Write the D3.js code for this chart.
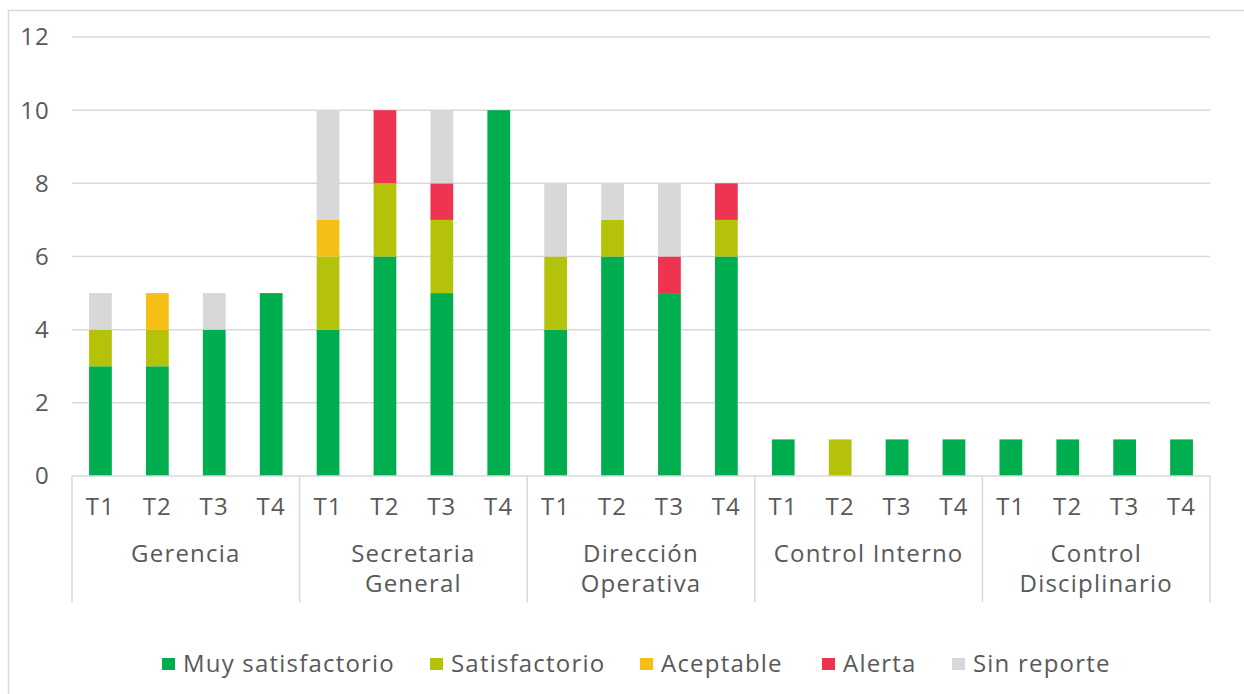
<!DOCTYPE html>
<html>
<head>
<meta charset="utf-8">
<script src="https://cdn.jsdelivr.net/npm/d3@7"></script>
<style>
body { margin: 0; background: #fff; }
text { font-family: "Open Sans", sans-serif; fill: #595959; letter-spacing: 1.2px; }
</style>
</head>
<body>
<div id="chart"></div>
<script>
// data
var groups = ["Gerencia", "Secretaria General", "Dirección Operativa", "Control Interno", "Control Disciplinario"];
var groupLines = [["Gerencia"], ["Secretaria", "General"], ["Dirección", "Operativa"], ["Control Interno"], ["Control", "Disciplinario"]];
var quarters = ["T1", "T2", "T3", "T4"];
var seriesNames = ["Muy satisfactorio", "Satisfactorio", "Aceptable", "Alerta", "Sin reporte"];
var seriesColors = ["#00ae4f", "#b4c30a", "#f5bf16", "#ee3451", "#d8d8d8"];
// one value per bar, 20 bars: groups x quarters
var muySatisfactorio = [3, 3, 4, 5,  4, 6, 5, 10,  4, 6, 5, 6,  1, 0, 1, 1,  1, 1, 1, 1];
var satisfactorio    = [1, 1, 0, 0,  2, 2, 2, 0,   2, 1, 0, 1,  0, 1, 0, 0,  0, 0, 0, 0];
var aceptable        = [0, 1, 0, 0,  1, 0, 0, 0,   0, 0, 0, 0,  0, 0, 0, 0,  0, 0, 0, 0];
var alerta           = [0, 0, 0, 0,  0, 2, 1, 0,   0, 0, 1, 1,  0, 0, 0, 0,  0, 0, 0, 0];
var sinReporte       = [1, 0, 1, 0,  3, 0, 2, 0,   2, 1, 2, 0,  0, 0, 0, 0,  0, 0, 0, 0];
var yTicks = [0, 2, 4, 6, 8, 10, 12];

const width = 1244;
const height = 694;
const plot = { left: 72, right: 1210, top: 37, bottom: 476 };
const fontSize = "24px";

var rows = [];
var seriesArrays = [muySatisfactorio, satisfactorio, aceptable, alerta, sinReporte];
groups.forEach(function(g, gi){
	quarters.forEach(function(q, qi){
		var i = gi * 4 + qi;
		var row = { key: g + "|" + q, group: g, quarter: q };
		seriesNames.forEach(function(s, si){ row[s] = seriesArrays[si][i]; });
		rows.push(row);
	});
});

var svg = d3.select("#chart").append("svg")
	.attr("width", width)
	.attr("height", height);

// chart border
svg.append("rect")
	.attr("x", 8.5).attr("y", 10.5)
	.attr("width", 1300).attr("height", 800)
	.attr("fill", "none")
	.attr("stroke", "#d9d9d9")
	.attr("stroke-width", 1.5);

var y = d3.scaleLinear().domain([0, 12]).range([plot.bottom, plot.top]);
var x = d3.scaleBand().domain(rows.map(d => d.key)).range([plot.left, plot.right])
	.paddingInner(0.6).paddingOuter(0.3);
var xGroup = d3.scaleBand().domain(groups).range([plot.left, plot.right]);
var color = d3.scaleOrdinal().domain(seriesNames).range(seriesColors);

// gridlines
svg.append("g").selectAll("line")
	.data(yTicks.filter(t => t > 0))
	.enter().append("line")
	.attr("x1", plot.left).attr("x2", plot.right)
	.attr("y1", d => y(d)).attr("y2", d => y(d))
	.attr("stroke", "#d9d9d9")
	.attr("stroke-width", 1.5);

// y labels
svg.append("g").selectAll("text")
	.data(yTicks)
	.enter().append("text")
	.attr("x", 50)
	.attr("y", d => y(d))
	.attr("dy", "0.35em")
	.attr("text-anchor", "end")
	.style("font-size", fontSize)
	.text(d => d);

// stacked bars
var stack = d3.stack().keys(seriesNames);
var layers = stack(rows);

svg.append("g").selectAll("g")
	.data(layers)
	.enter().append("g")
	.attr("fill", d => color(d.key))
	.selectAll("rect")
	.data(d => d.filter(p => p[1] > p[0]))
	.enter().append("rect")
	.attr("x", d => x(d.data.key))
	.attr("width", x.bandwidth())
	.attr("y", d => y(d[1]))
	.attr("height", d => y(d[0]) - y(d[1]));

// category axis
var axis = svg.append("g");
axis.append("line")
	.attr("x1", plot.left).attr("x2", plot.right)
	.attr("y1", plot.bottom).attr("y2", plot.bottom)
	.attr("stroke", "#d9d9d9").attr("stroke-width", 1.5);

var seps = groups.map(g => xGroup(g)).concat([plot.right]);
axis.selectAll("line.sep")
	.data(seps)
	.enter().append("line")
	.attr("class", "sep")
	.attr("x1", d => d).attr("x2", d => d)
	.attr("y1", plot.bottom).attr("y2", 602)
	.attr("stroke", "#d9d9d9").attr("stroke-width", 1.5);

axis.selectAll("text.q")
	.data(rows)
	.enter().append("text")
	.attr("class", "q")
	.attr("x", d => x(d.key) + x.bandwidth() / 2)
	.attr("y", 507)
	.attr("dy", "0.35em")
	.attr("text-anchor", "middle")
	.style("font-size", fontSize)
	.text(d => d.quarter);

var gl = axis.selectAll("text.g")
	.data(groups)
	.enter().append("text")
	.attr("class", "g")
	.attr("text-anchor", "middle")
	.style("font-size", fontSize);
gl.selectAll("tspan")
	.data((d, i) => groupLines[i].map(t => ({ t: t, g: d })))
	.enter().append("tspan")
	.attr("x", d => xGroup(d.g) + xGroup.bandwidth() / 2)
	.attr("y", (d, i) => 554 + i * 30)
	.attr("dy", "0.35em")
	.text(d => d.t);

// legend
var legendX = [162, 430, 640, 822, 952];
var legend = svg.append("g").selectAll("g")
	.data(seriesNames)
	.enter().append("g")
	.attr("transform", (d, i) => "translate(" + legendX[i] + ",664)");
legend.append("rect")
	.attr("x", 0).attr("y", -6)
	.attr("width", 13).attr("height", 12)
	.attr("fill", d => color(d));
legend.append("text")
	.attr("x", 21)
	.attr("dy", "0.35em")
	.style("font-size", fontSize)
	.text(d => d);
</script>
</body>
</html>
